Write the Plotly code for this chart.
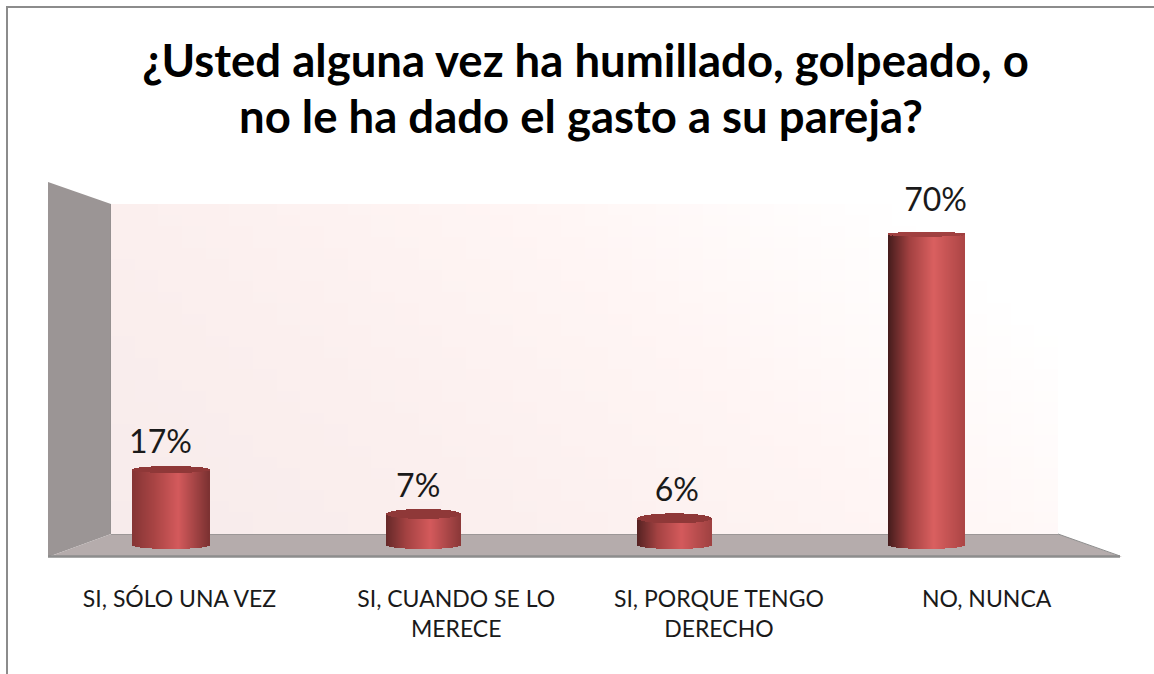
import numpy as np
import plotly.graph_objects as go

W, H = 1154, 674

# --- data ---
categories = ["SI, SÓLO UNA VEZ", "SI, CUANDO SE LO<br>MERECE", "SI, PORQUE TENGO<br>DERECHO", "NO, NUNCA"]
values = [17, 7, 6, 70]
title_line_1 = "¿Usted alguna vez ha humillado, golpeado, o"
title_line_2 = "no le ha dado el gasto a su pareja?"

# --- style: cylinders ---
bar_w_px = [77, 74, 74, 76]
cap_hh_px = [3.5, 5.0, 5.0, 2.5]
base_hh_px = 4.0
left_col = ["#853535", "#662929", "#552222", "#451c1c"]
mid_col = ["#a84444", "#a54343", "#a54343", "#a24141"]
peak_col = ["#d45a5c", "#d45a5c", "#d45a5c", "#da6060"]
right_col = ["#7c3232", "#8c3939", "#a04242", "#ad4646"]
cap_col = ["#8f3838", "#8f3838", "#8f3838", "#a04040"]
label_dx_px = [-11, -5, 2, 9]
label_dy_px = [25, 25, 25, 31]
tick_dx_px = [8, 33, 44, 60]

# pixel geometry -> axis ranges
x0_px, dx_px = 171.5, 251.7
base_px, py = 545.0, 4.44
axis_px = 576.0
xr = [-x0_px / dx_px, (W - x0_px) / dx_px]
yr = [(base_px - axis_px) / py, base_px / py]
X = lambda p: (p - x0_px) / dx_px
Y = lambda p: (base_px - p) / py
pxx = lambda p: p / W
pxy = lambda p: 1 - p / H


def hex2rgb(h):
    return np.array([int(h[i:i + 2], 16) for i in (1, 3, 5)], float)


def shade(t, i):
    stops = [0.0, 0.28, 0.6, 1.0]
    cols = [hex2rgb(c[i]) for c in (left_col, mid_col, peak_col, right_col)]
    rgb = [np.interp(t, stops, [c[k] for c in cols]) for k in range(3)]
    return "rgb(%d,%d,%d)" % tuple(rgb)


fig = go.Figure()

# back wall gradient (x and y are cell edges, so it stops exactly at the wall)
ex = np.linspace(0, 1, 41)
ey = np.linspace(0, 1, 31)
cx = (ex[:-1] + ex[1:]) / 2
cy = (ey[:-1] + ey[1:]) / 2
gz = 0.7 * cx[None, :] + 0.3 * cy[:, None]
fig.add_trace(go.Heatmap(
    x=X(111 + ex * (1058 - 111)), y=Y(534 - ey * (534 - 204)), z=gz, zmin=0, zmax=1,
    colorscale=[[0, "#f7ebeb"], [0.3, "#fbefee"], [0.6, "#fff5f4"], [0.88, "#ffffff"], [1, "#ffffff"]],
    showscale=False, hoverinfo="skip"))

# cylinders: one slice per pixel, each slice cut along the ellipse of base and top
for i, v in enumerate(values):
    n = bar_w_px[i]
    t = (np.arange(n) + 0.5) / n
    s = 2 * t - 1
    arc = np.sqrt(1 - s ** 2)
    xs = i + s * n / 2 / dx_px
    ws = np.full(n, 1.15 / dx_px)
    bottom = -base_hh_px * arc / py
    top_front = v - cap_hh_px[i] * arc / py
    fig.add_trace(go.Bar(x=xs, y=top_front - bottom, base=bottom, width=ws,
                         marker=dict(color=[shade(a, i) for a in t], line=dict(width=0)),
                         hoverinfo="skip", showlegend=False))
    fig.add_trace(go.Bar(x=xs, y=2 * cap_hh_px[i] * arc / py, base=top_front, width=ws,
                         marker=dict(color=cap_col[i], line=dict(width=0)),
                         hoverinfo="skip", showlegend=False))

# value labels
fig.add_trace(go.Scatter(
    x=[i + label_dx_px[i] / dx_px for i in range(4)],
    y=[v + label_dy_px[i] / py for i, v in enumerate(values)],
    mode="text", text=[f"{v}%" for v in values], textposition="middle center",
    textfont=dict(family="Lato", size=32, color="#1a1a1a"),
    hoverinfo="skip", showlegend=False))


def poly(pts, fill, layer="below", line=None):
    d = "M " + " L ".join(f"{pxx(a):.5f},{pxy(b):.5f}" for a, b in pts) + " Z"
    return dict(type="path", xref="paper", yref="paper", path=d, fillcolor=fill,
                line=dict(width=0) if line is None else line, layer=layer)


def seg(a, b, c, d, col, w):
    return dict(type="line", xref="paper", yref="paper", x0=pxx(a), y0=pxy(b), x1=pxx(c), y1=pxy(d),
                line=dict(color=col, width=w), layer="below")


shapes = [
    poly([(48, 182), (111, 204), (111, 534), (48, 557)], "#9b9595"),
    poly([(111, 534), (1058, 534), (1122, 557), (48, 557)], "#b5acac"),
    seg(111, 534, 1058, 534, "#949090", 1.5),
    seg(111, 204, 111, 534, "#8f8a8a", 1),
    seg(48, 556.5, 1120, 556.5, "#8d8d8d", 2.5),
    seg(1058, 534, 1120, 556, "#8d8d8d", 1),
    seg(7, 7, 7, 674, "#8c8c8c", 2),
    seg(6, 7, 1154, 7, "#8c8c8c", 2),
]

title_font = dict(family="Lato", size=45.5, color="#000000", weight="bold")

fig.update_layout(
    width=W, height=H, margin=dict(l=0, r=0, t=0, b=0),
    paper_bgcolor="white", plot_bgcolor="rgba(0,0,0,0)",
    barmode="overlay", showlegend=False, shapes=shapes, bargap=0,
    title=dict(text=title_line_1, x=585.5 / W, xanchor="center", y=pxy(61), yanchor="middle", font=title_font),
    annotations=[dict(text=title_line_2, xref="paper", yref="paper", x=581 / W, y=pxy(116),
                      xanchor="center", yanchor="middle", showarrow=False, font=title_font)],
    xaxis=dict(range=xr, showgrid=False, zeroline=False, showline=False,
               tickmode="array", tickvals=[i + tick_dx_px[i] / dx_px for i in range(4)],
               ticktext=categories, ticks="", tickangle=0, ticklabelstandoff=7,
               tickfont=dict(family="Lato", size=23, color="#1a1a1a")),
    yaxis=dict(range=yr, domain=[1 - axis_px / H, 1], showgrid=False, zeroline=False,
               showline=False, showticklabels=False, ticks=""),
)

fig.write_html("out.html", config=dict(displayModeBar=False),
               post_script="document.body.style.margin='0';")
